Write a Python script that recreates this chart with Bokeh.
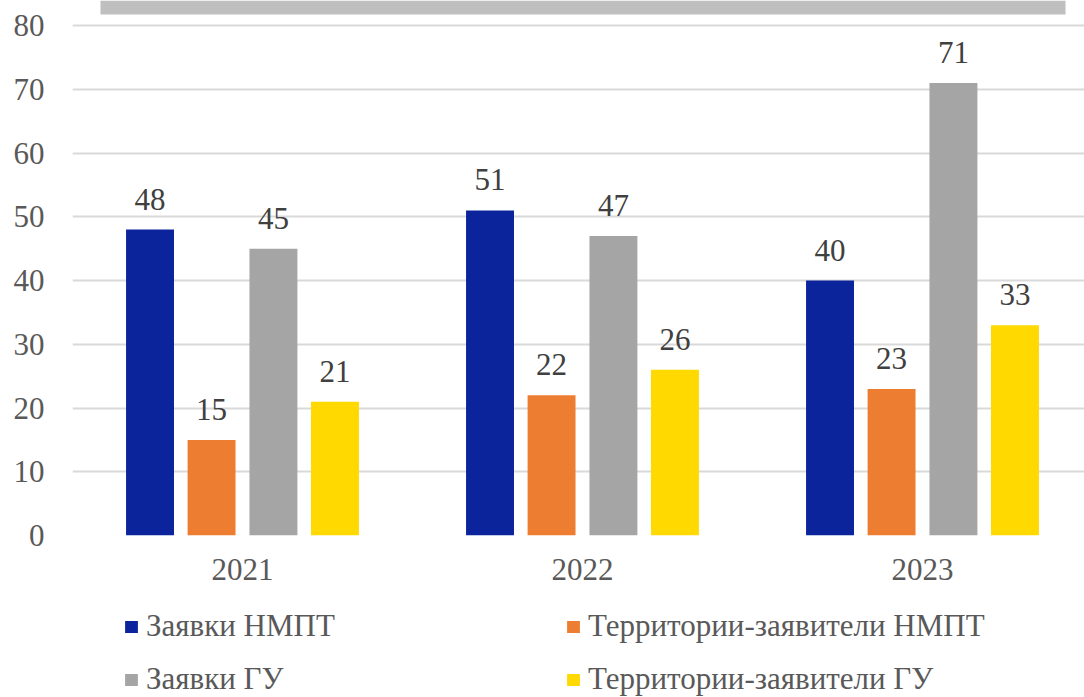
from bokeh.plotting import figure
from bokeh.models import ColumnDataSource, Range1d, FixedTicker, LabelSet, Legend, LegendItem, BoxAnnotation
from bokeh.layouts import column
from bokeh.embed import file_html
from bokeh.resources import INLINE

years = ["2021", "2022", "2023"]
series = ["Заявки НМПТ", "Территории-заявители НМПТ", "Заявки ГУ", "Территории-заявители ГУ"]
zayavki_nmpt = [48, 51, 40]
terr_nmpt = [15, 22, 23]
zayavki_gu = [45, 47, 71]
terr_gu = [21, 26, 33]
colors = ["#0B249B", "#ED7D31", "#A5A5A5", "#FFD900"]

values = [zayavki_nmpt, terr_nmpt, zayavki_gu, terr_gu]
offsets = [-0.272, -0.091, 0.091, 0.272]
bar_w = 0.141

FONT = "Liberation Serif"
PX = 510 / 80  # pixels per unit

p = figure(width=1084, height=605, output_backend="svg", toolbar_location=None,
           x_range=Range1d(0, 1012 / 340), y_range=Range1d(0, 80 + 25 / PX),
           min_border_left=72, min_border_top=0, min_border_right=0, min_border_bottom=70)
p.outline_line_color = None
p.background_fill_color = "white"
p.border_fill_color = "white"

# top title-bar remnant
p.add_layout(BoxAnnotation(left=28 / 340, right=993 / 340, bottom=80 + 11 / PX,
                           fill_color="#BFBFBF", fill_alpha=1, line_color=None, level="underlay"))

for name, vals, off, col in zip(series, values, offsets, colors):
    src = ColumnDataSource(dict(x=[i + 0.5 + off for i in range(len(years))], top=vals,
                                lab=[str(v) for v in vals]))
    p.vbar(x="x", top="top", width=bar_w, source=src, fill_color=col, line_color=None)
    p.add_layout(LabelSet(x="x", y="top", text="lab", source=src, text_align="center",
                          text_baseline="bottom", y_offset=20, text_font=FONT,
                          text_font_size="31px", text_color="#404040"))

p.yaxis.ticker = FixedTicker(ticks=list(range(0, 81, 10)))
p.yaxis.axis_line_color = None
p.yaxis.major_tick_line_color = None
p.yaxis.minor_tick_line_color = None
p.yaxis.major_tick_out = 0
p.yaxis.major_label_standoff = 28
p.yaxis.major_label_text_font = FONT
p.yaxis.major_label_text_font_size = "31px"
p.yaxis.major_label_text_color = "#595959"

p.xaxis.ticker = FixedTicker(ticks=[0.5, 1.5, 2.5])
p.xaxis.major_label_overrides = {0.5: years[0], 1.5: years[1], 2.5: years[2]}
p.xaxis.axis_line_color = None
p.xaxis.major_tick_line_color = None
p.xaxis.minor_tick_line_color = None
p.xaxis.major_tick_out = 0
p.xaxis.major_label_standoff = 23
p.xaxis.major_label_text_font = FONT
p.xaxis.major_label_text_font_size = "31px"
p.xaxis.major_label_text_color = "#595959"

p.xgrid.grid_line_color = None
p.ygrid.grid_line_color = "#D9D9D9"
p.ygrid.grid_line_width = 2

# legend figure (swatch renderers kept outside its visible range)
lg = figure(width=1084, height=92, output_backend="svg", toolbar_location=None,
            x_range=Range1d(0, 1), y_range=Range1d(0, 1),
            x_axis_location=None, y_axis_location=None,
            min_border_left=0, min_border_top=0, min_border_right=0, min_border_bottom=0)
lg.outline_line_color = None
lg.xgrid.grid_line_color = None
lg.ygrid.grid_line_color = None
items = []
for name, col in zip(series, colors):
    r = lg.vbar(x=[10], top=[10], bottom=[9], width=0.1, fill_color=col, line_color=None)
    items.append(LegendItem(label=name, renderers=[r]))

legend = Legend(items=[items[0], items[2], items[1], items[3]], ncols=2, location=(51, 0),
                label_text_font=FONT, label_text_font_size="31px", label_text_color="#595959",
                glyph_width=16, glyph_height=15, label_standoff=7, spacing=17,
                label_width=402, label_height=30, padding=0, margin=0,
                border_line_color=None, background_fill_alpha=0)
lg.add_layout(legend, "center")

layout = column(p, lg, spacing=0)
open("out.html", "w").write(file_html(layout, INLINE))
